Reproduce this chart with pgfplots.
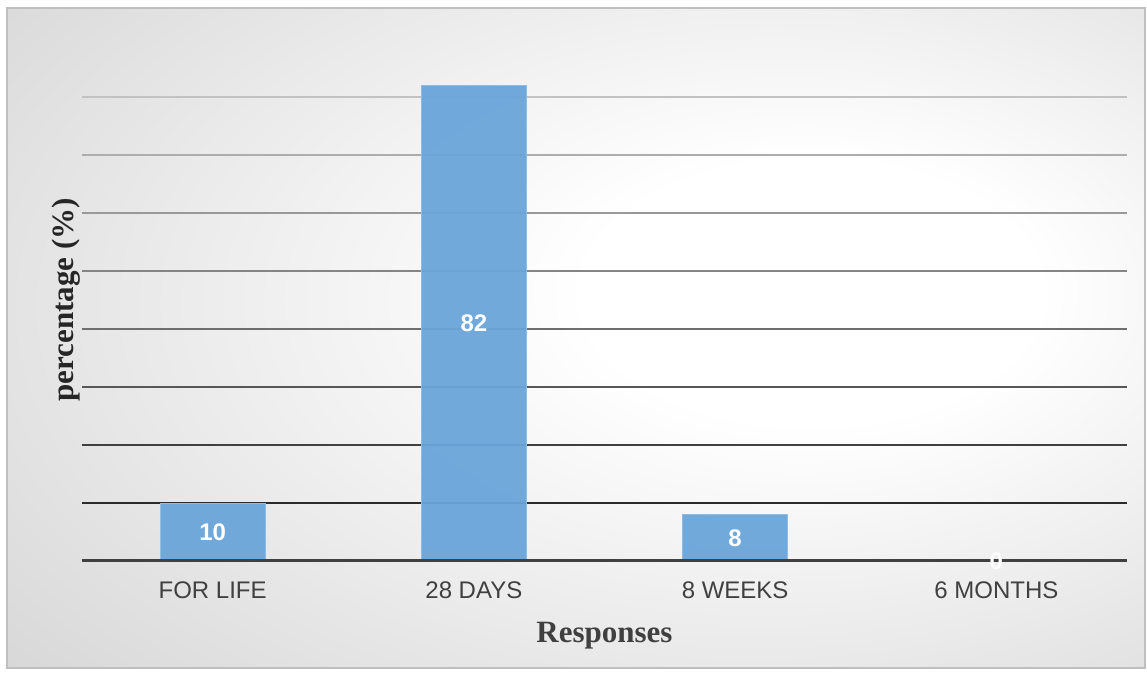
\documentclass[border=0pt]{standalone}
\usepackage{pgfplots}
\pgfplotsset{compat=1.18}
\usepackage{pgfplotstable}
\usepackage{fontspec}
\setmainfont{Liberation Serif}
\newfontfamily\arialfont{Liberation Sans}

\definecolor{barblue}{HTML}{6BA5DA}
\definecolor{labelgray}{HTML}{404040}
% gridlines darken from top to bottom
\colorlet{grid10}{black!83}
\colorlet{grid20}{black!75}
\colorlet{grid30}{black!66}
\colorlet{grid40}{black!57}
\colorlet{grid50}{black!48}
\colorlet{grid60}{black!40}
\colorlet{grid70}{black!32}
\colorlet{grid80}{black!24}

\pgfdeclareradialshading{chartbg}{\pgfpoint{12bp}{4bp}}{%
  color(0bp)=(white); color(10bp)=(white); color(42bp)=(black!16); color(75bp)=(black!30)}

\pgfplotstableread{
x v
0 10
1 82
2 8
3 0
}\responses

\begin{document}
\begin{tikzpicture}
\useasboundingbox (0,0) rectangle (573.5pt,337.5pt);
\fill[white] (0,0) rectangle (573.5pt,337.5pt);
\shade[shading=chartbg] (3.5pt,3.5pt) rectangle (572.5pt,333.5pt);
\draw[black!25, line width=0.8pt] (3.5pt,3.5pt) rectangle (572.5pt,333.5pt);
\begin{axis}[
  at={(41pt,57pt)}, anchor=south west,
  scale only axis, width=522.5pt, height=261pt,
  xmin=-0.5, xmax=3.5, ymin=0, ymax=90,
  axis line style={draw=none},
  ytick=\empty,
  xtick={0,1,2,3},
  xticklabels={FOR LIFE,28 DAYS,8 WEEKS,6 MONTHS},
  major tick length=0pt,
  xticklabel style={font=\arialfont\fontsize{12}{14}\selectfont, text=labelgray, anchor=base, yshift=-19pt},
  xlabel={Responses},
  ylabel={percentage (\%)},
  xlabel style={font=\bfseries\fontsize{15.5}{18}\selectfont, text=labelgray,
    at={(axis description cs:0.5,0)}, anchor=base, yshift=-41pt},
  ylabel style={font=\bfseries\fontsize{15.5}{18}\selectfont, text=black!85,
    at={(axis description cs:-0.0086,0.5)}, anchor=base},
  clip=false,
]
\pgfplotsinvokeforeach{10,20,30,40,50,60,70,80}{%
  \draw[line width=1pt, grid#1] (axis cs:-0.5,#1) -- (axis cs:3.5,#1);
}
\addplot[ybar, bar width=52.5pt, fill=barblue, fill opacity=0.95,
  draw=barblue!75!white, line width=0.5pt] table[x=x, y=v] {\responses};
% category axis baseline
\addplot[black!75, line width=1.5pt, mark=none] coordinates {(-0.5,0) (3.5,0)};
\addplot[draw=none, mark=none, nodes near coords, point meta=explicit,
  /pgf/number format/assume math mode=true,
  nodes near coords style={font=\arialfont\bfseries\fontsize{12}{14}\selectfont,
    text=white, anchor=center}]
  table[x=x, y expr=\thisrow{v}/2, meta=v] {\responses};
\end{axis}
\end{tikzpicture}
\end{document}
